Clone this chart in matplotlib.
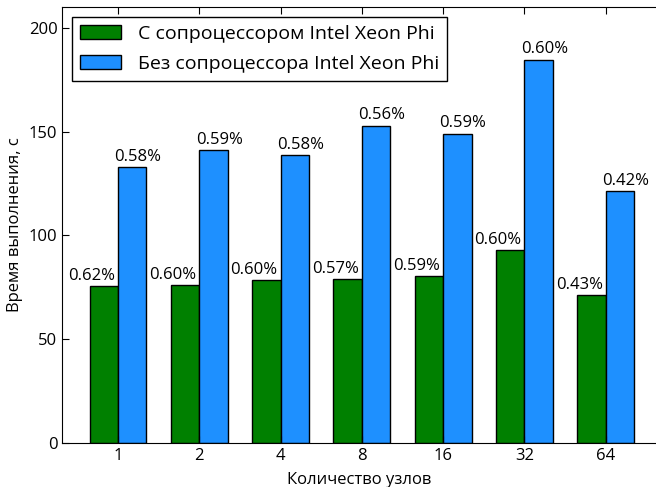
import numpy as np
import matplotlib
matplotlib.use("Agg")
import matplotlib.pyplot as plt

plt.rcParams['font.family'] = ['Open Sans', 'DejaVu Sans']

nodes = ['1', '2', '4', '8', '16', '32', '64']
with_phi = [75.5, 76, 78.4, 78.8, 80.3, 92.8, 71.2]
without_phi = [132.7, 140.9, 138.5, 152.9, 149, 184.6, 121.2]
with_phi_pct = ['0.62%', '0.60%', '0.60%', '0.57%', '0.59%', '0.60%', '0.43%']
without_phi_pct = ['0.58%', '0.59%', '0.58%', '0.56%', '0.59%', '0.60%', '0.42%']

ind = np.arange(len(nodes))
width = 0.35

fig = plt.figure(figsize=(6.56, 4.87), dpi=100)
ax = fig.add_axes([62.3 / 656, 44 / 487, 1 - 62.3 / 656, 436 / 487])

b1 = ax.bar(ind - width / 2, with_phi, width, color='green', edgecolor='black',
            linewidth=1, label='С сопроцессором Intel Xeon Phi')
b2 = ax.bar(ind + width / 2, without_phi, width, color='dodgerblue', edgecolor='black',
            linewidth=1, label='Без сопроцессора Intel Xeon Phi')

# percentage labels above each bar
for rect, txt in zip(b1, with_phi_pct):
    ax.text(rect.get_x() + rect.get_width() / 2 - 0.15, rect.get_height() + 1.2, txt,
            ha='center', va='bottom', fontsize=12)
for rect, txt in zip(b2, without_phi_pct):
    ax.text(rect.get_x() + rect.get_width() / 2 + 0.07, rect.get_height() + 1.2, txt,
            ha='center', va='bottom', fontsize=12)

ax.set_xlim(-0.685, 6.62)
ax.set_ylim(0, 210)
ax.set_xticks(ind)
ax.set_xticklabels(nodes)
ax.set_yticks([0, 50, 100, 150, 200])
ax.tick_params(direction='in', top=True, right=False, length=5, labelsize=12)
ax.spines['right'].set_visible(False)

ax.set_xlabel('Количество узлов', fontsize=12, labelpad=6)
ax.set_ylabel('Время выполнения, с', fontsize=12)

leg = ax.legend(loc='upper left', fontsize=14, fancybox=False, framealpha=1,
                edgecolor='black', handlelength=2.1, handleheight=0.72,
                handletextpad=0.85, borderpad=0.43, labelspacing=0.6)
leg.get_frame().set_linewidth(1)

fig.savefig('out.png', dpi=100)
